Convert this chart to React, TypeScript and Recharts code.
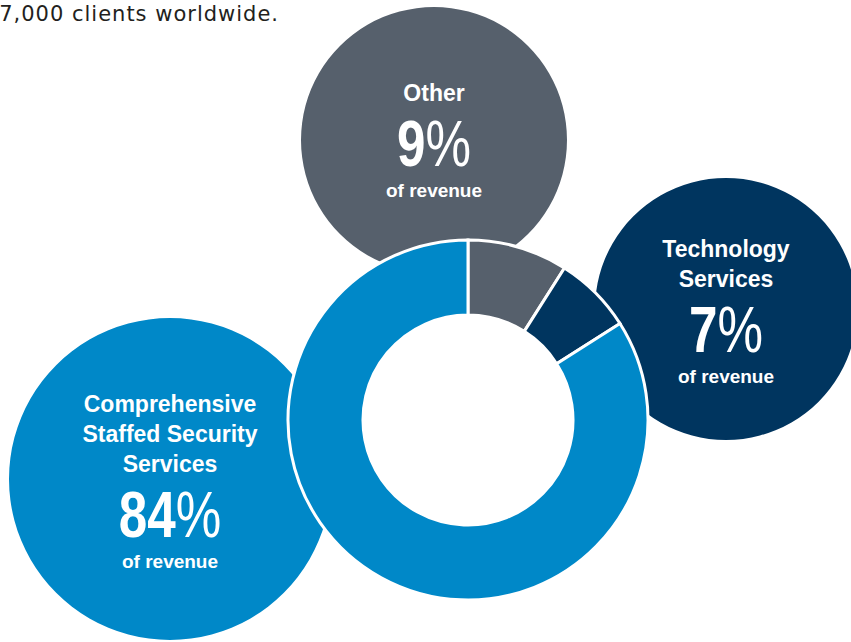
import React from "react";
import { PieChart, Pie, Cell } from "recharts";

// revenue mix
const segmentNames = ["Other", "Technology Services", "Comprehensive Staffed Security Services"];
const revenueShare = [9, 7, 84];
const labelLines = [["Other"], ["Technology", "Services"], ["Comprehensive", "Staffed Security", "Services"]];
const subLabel = "of revenue";
const topNote = "7,000 clients worldwide.";

const segmentColors = ["#56606c", "#00355f", "#0088c8"];

// bubble placement (layout only)
const bubbles = [
  { cx: 434, cy: 140, r: 133, pctY: 27 },
  { cx: 726, cy: 309, r: 131, pctY: 44 },
  { cx: 170, cy: 479, r: 161, pctY: 59 },
];

const donutData = segmentNames.map((name, i) => ({ name, value: revenueShare[i] }));

const labelFont = "'Liberation Sans', Arial, sans-serif";

const makeBubbleLabel = (idx: number) => (props: any) => {
  const { cx, cy } = props;
  if (isNaN(cx) || isNaN(cy)) return null;
  const lines = labelLines[idx];
  const pctBase = cy + bubbles[idx].pctY;
  return (
    <g>
      {lines.map((line, i) => (
        <text
          key={i}
          x={cx}
          y={pctBase - 66 - 30 * (lines.length - 1 - i)}
          textAnchor="middle"
          fill="#fff"
          fontFamily={labelFont}
          fontWeight={700}
          fontSize={23}
        >
          {line}
        </text>
      ))}
      {/* condensed big number */}
      <text
        x={cx}
        y={pctBase - 1}
        textAnchor="middle"
        fill="#fff"
        fontFamily={labelFont}
        fontSize={64}
        transform={`translate(${cx} 0) scale(0.8 1) translate(${-cx} 0)`}
      >
        <tspan fontWeight={700}>{revenueShare[idx]}</tspan>
        <tspan fontWeight={400}>%</tspan>
      </text>
      <text
        x={cx}
        y={pctBase + 30}
        textAnchor="middle"
        fill="#fff"
        fontFamily={labelFont}
        fontWeight={700}
        fontSize={19}
      >
        {subLabel}
      </text>
    </g>
  );
};

export default function App() {
  return (
    <div style={{ position: "absolute", left: 0, top: 0, width: 851, height: 642, background: "#fff" }}>
      <PieChart width={851} height={642} margin={{ top: 0, right: 0, bottom: 0, left: 0 }}>
        {bubbles.map((b, i) => (
          <Pie
            key={segmentNames[i]}
            data={[donutData[i]]}
            dataKey="value"
            cx={b.cx}
            cy={b.cy}
            innerRadius={0}
            outerRadius={b.r}
            startAngle={90}
            endAngle={-270}
            stroke="none"
            label={makeBubbleLabel(i)}
            labelLine={false}
            isAnimationActive={false}
          >
            <Cell fill={segmentColors[i]} />
          </Pie>
        ))}
        <Pie
          data={donutData}
          dataKey="value"
          cx={468}
          cy={420}
          innerRadius={105}
          outerRadius={180}
          startAngle={90}
          endAngle={-270}
          stroke="#fff"
          strokeWidth={3}
          label={false}
          labelLine={false}
          isAnimationActive={false}
        >
          {donutData.map((d, i) => (
            <Cell key={d.name} fill={segmentColors[i]} />
          ))}
        </Pie>
      </PieChart>
      <svg width={851} height={40} style={{ position: "absolute", left: 0, top: 0 }}>
        <text x={279} y={21} textAnchor="end" fill="#231f20" fontFamily="'DejaVu Sans', sans-serif" fontSize={21} letterSpacing={1}>
          {topNote}
        </text>
      </svg>
    </div>
  );
}
